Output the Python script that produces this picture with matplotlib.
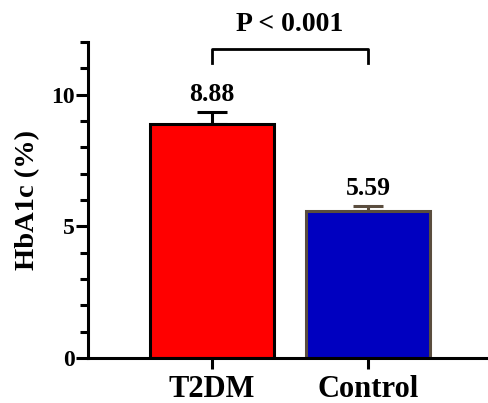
import numpy as np
import matplotlib.pyplot as plt
from matplotlib.ticker import MultipleLocator

groups = ["T2DM", "Control"]
means = [8.88, 5.59]
sd_upper = [0.48, 0.18]
value_labels = ["8.88", "5.59"]
p_text = "P < 0.001"

fill_colors = ["#ff0000", "#0000c0"]
edge_colors = ["#000000", "#5a4d3e"]

plt.rcParams['font.family'] = ['Liberation Serif', 'DejaVu Serif']
plt.rcParams['font.weight'] = 'bold'

fig = plt.figure(figsize=(4.88, 4.03), dpi=100)
ax = fig.add_axes([0.1803, 0.1117, 0.8197, 0.7841])

x = np.arange(len(groups))
width = 0.79
for i in range(len(groups)):
    ax.bar(x[i], means[i], width, color=fill_colors[i], edgecolor=edge_colors[i],
           linewidth=2.2, zorder=2)
    ax.errorbar(x[i], means[i], yerr=[[0], [sd_upper[i]]], fmt='none',
                ecolor=edge_colors[i], elinewidth=2.2, capsize=10.8,
                capthick=2.2, zorder=1)
    ax.text(x[i], means[i] + sd_upper[i] + 0.22, value_labels[i], ha='center',
            va='bottom', fontsize=18.5, fontweight='bold')

# significance bracket
y_br = 11.75
ax.plot([x[0], x[0], x[1], x[1]], [11.2, y_br, y_br, 11.2], color='black',
        lw=2.0, clip_on=False)
ax.text((x[0] + x[1]) / 2, 12.2, p_text, ha='center', va='bottom',
        fontsize=20, fontweight='bold', clip_on=False)

ax.set_xlim(-0.795, 1.77)
ax.set_ylim(0, 12)
ax.set_xticks(x)
ax.set_xticklabels(groups, fontsize=22, fontweight='bold')
ax.yaxis.set_major_locator(MultipleLocator(5))
ax.yaxis.set_minor_locator(MultipleLocator(1))
ax.tick_params(axis='y', which='major', labelsize=17, length=8.5, width=2.2, pad=1)
ax.tick_params(axis='y', which='minor', length=5.5, width=2.2)
ax.tick_params(axis='x', which='major', length=8, width=2.2, pad=4)
ax.set_ylabel("HbA1c (%)", fontsize=20.5, fontweight='bold', labelpad=8)

for side in ['top', 'right']:
    ax.spines[side].set_visible(False)
for side in ['left', 'bottom']:
    ax.spines[side].set_linewidth(2.2)

fig.savefig("out.png", dpi=100)
